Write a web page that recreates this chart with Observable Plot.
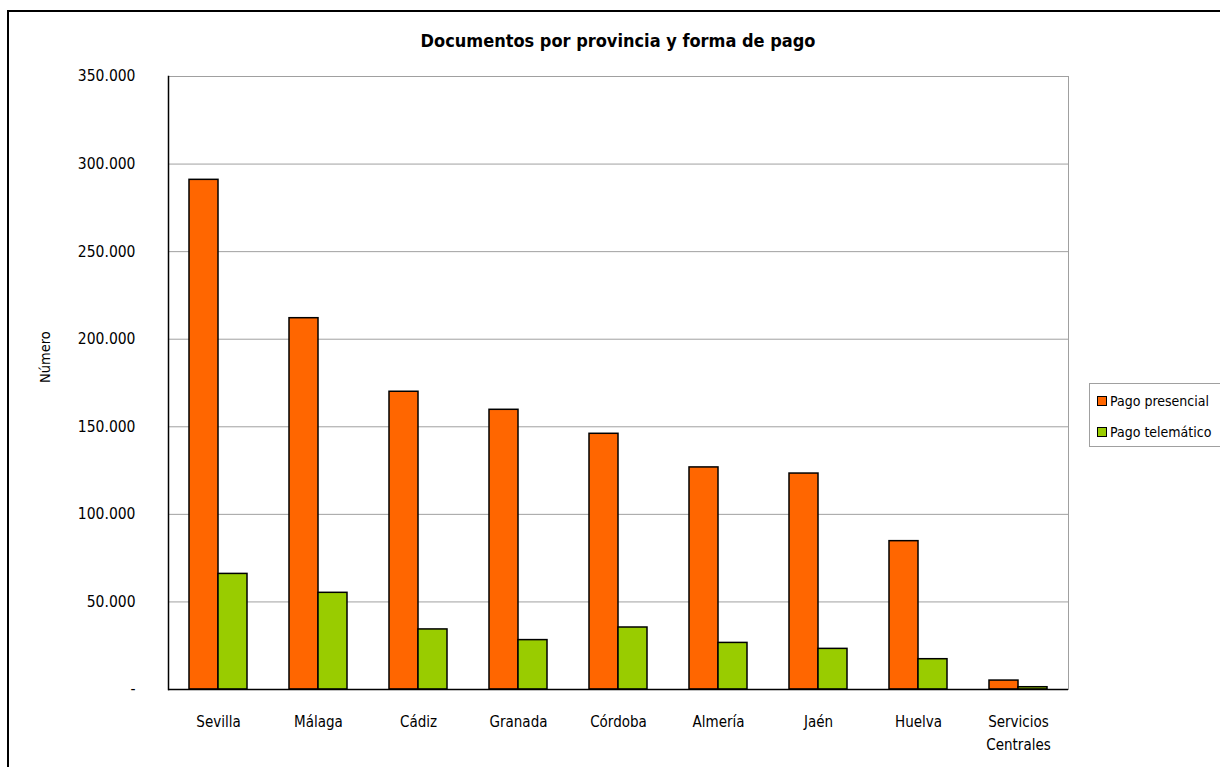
<!DOCTYPE html>
<html>
<head>
<meta charset="utf-8">
<script src="https://cdn.jsdelivr.net/npm/d3@7"></script>
<script src="https://cdn.jsdelivr.net/npm/@observablehq/plot@0.6"></script>
<style>
  html, body { margin: 0; padding: 0; background: #fff; }
  #wrap { position: relative; width: 1220px; height: 767px; overflow: hidden;
    font-family: "Liberation Sans Narrow", "DejaVu Sans Condensed", sans-serif; }
  #border { position: absolute; left: 7px; top: 10px; width: 1230px; height: 780px;
    border: 2px solid #000; box-sizing: border-box; }
  #title { position: absolute; top: 30px; left: 168px; width: 900px; text-align: center;
    font-weight: bold; font-size: 18px; color: #000; }
  #chart { position: absolute; left: 0; top: 0; }
  #legend { position: absolute; left: 1089px; top: 383px; width: 140px; height: 64px;
    border: 1px solid #a0a0a0; box-sizing: border-box; background: #fff; font-size: 14px; }
  .row { position: absolute; left: 7px; display: flex; align-items: center; }
  .sw { width: 8px; height: 8px; border: 1.5px solid #000; margin-right: 3px; }
</style>
</head>
<body>
<div id="wrap">
  <div id="border"></div>
  <div id="chart"></div>
  <div id="title">Documentos por provincia y forma de pago</div>
  <div id="legend"></div>
</div>
<script>
const categories = ["Sevilla", "Málaga", "Cádiz", "Granada", "Córdoba", "Almería", "Jaén", "Huelva", "Servicios Centrales"];
const series = ["Pago presencial", "Pago telemático"];
const presencial = [291000, 212000, 170000, 159700, 146000, 126800, 123300, 84700, 5100];
const telematico = [66000, 55200, 34300, 28200, 35400, 26600, 23200, 17300, 1300];
const colors = ["#ff6600", "#99cc00"];
const yTicks = [0, 50000, 100000, 150000, 200000, 250000, 300000, 350000];

const dataP = categories.map((c, i) => ({cat: c, serie: series[0], value: presencial[i]}));
const dataT = categories.map((c, i) => ({cat: c, serie: series[1], value: telematico[i]}));

const loc = d3.formatLocale({thousands: ".", decimal: ",", grouping: [3], currency: ["", "€"]});
const fmt = loc.format(",d");
const font = '"Liberation Sans Narrow", "DejaVu Sans Condensed", sans-serif';

const chart = Plot.plot({
  width: 1220,
  height: 767,
  marginLeft: 168,
  marginRight: 152,
  marginTop: 76,
  marginBottom: 78,
  style: {fontFamily: font, fontSize: "14.5px", color: "#000", background: "transparent"},
  x: {domain: categories, paddingInner: 0.42, paddingOuter: 0.21, label: null},
  y: {domain: [0, 350000], ticks: yTicks, label: null},
  color: {domain: series, range: colors},
  marks: [
    Plot.gridY(yTicks.filter(d => d > 0), {stroke: "#a0a0a0", strokeOpacity: 1, strokeWidth: 1}),
    Plot.frame({stroke: "#a0a0a0", strokeWidth: 1}),
    Plot.frame({anchor: "left", stroke: "#000", strokeWidth: 1.5}),
    Plot.barY(dataP, {x: "cat", y: "value", fill: "serie", stroke: "#000", strokeWidth: 1.5, insetRight: 29}),
    Plot.barY(dataT, {x: "cat", y: "value", fill: "serie", stroke: "#000", strokeWidth: 1.5, insetLeft: 29}),
    Plot.ruleY([0], {stroke: "#000", strokeWidth: 1.5}),
    Plot.axisY({ticks: yTicks, tickSize: 0, tickPadding: 33, fontSize: 15.5,
      tickFormat: d => d === 0 ? "-" : fmt(d), label: null}),
    Plot.axisX({anchor: "bottom", tickSize: 0, tickPadding: 22, fontSize: 15, label: null, lineHeight: 1.5,
      tickFormat: d => d === "Servicios Centrales" ? "Servicios\nCentrales" : d}),
    Plot.text(["Número"], {frameAnchor: "left", dx: -123, rotate: -90, fontSize: 14.5})
  ]
});
document.getElementById("chart").appendChild(chart);

const legend = document.getElementById("legend");
series.forEach((s, i) => {
  const row = document.createElement("div");
  row.className = "row";
  row.style.top = (9 + i * 31) + "px";
  const sw = document.createElement("div");
  sw.className = "sw";
  sw.style.background = colors[i];
  const t = document.createElement("span");
  t.textContent = s;
  row.appendChild(sw);
  row.appendChild(t);
  legend.appendChild(row);
});
</script>
</body>
</html>
